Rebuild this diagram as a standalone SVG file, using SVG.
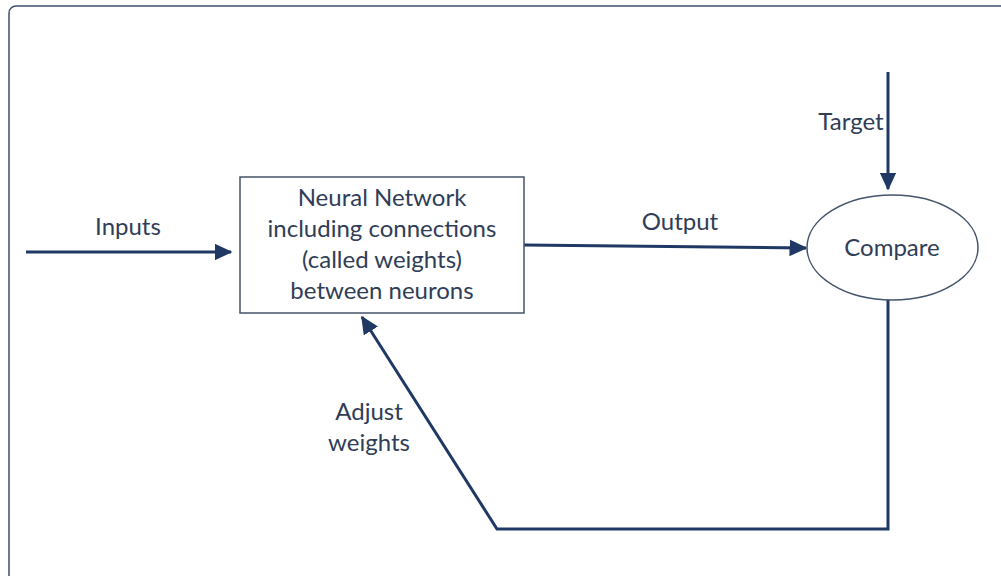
<svg xmlns="http://www.w3.org/2000/svg" width="1001" height="576" viewBox="0 0 1001 576">
  <style>
    .lbl { font-family: Lato, "Liberation Sans", sans-serif; font-size: 24px; fill: #2f3d57; text-anchor: middle; }
    .edge { fill: none; stroke: #203864; stroke-width: 3; }
    .shape { fill: #ffffff; stroke: #44546a; stroke-width: 1.5; }
  </style>
  <defs>
    <marker id="arrow" markerWidth="6" markerHeight="5.6" refX="5.5" refY="2.8" orient="auto" markerUnits="strokeWidth">
      <path d="M0,0 L6,2.8 L0,5.6 Z" fill="#203864"/>
    </marker>
  </defs>

  <!-- outer panel -->
  <rect x="9" y="6" width="1010" height="590" rx="7" fill="#ffffff" stroke="#3d4f6b" stroke-width="1.5"/>

  <!-- connectors -->
  <g id="connectors">
    <line class="edge" x1="26" y1="252" x2="231" y2="252" marker-end="url(#arrow)"/>
    <line class="edge" x1="524" y1="245" x2="806" y2="248" marker-end="url(#arrow)"/>
    <line class="edge" x1="888" y1="72" x2="888" y2="189" marker-end="url(#arrow)"/>
    <polyline class="edge" points="888,300 888,529 497,529 362,317" marker-end="url(#arrow)"/>
    <text class="lbl" x="128" y="235">Inputs</text>
    <text class="lbl" x="680" y="230">Output</text>
    <text class="lbl" x="851" y="130">Target</text>
    <text class="lbl" x="369" y="420">Adjust</text>
    <text class="lbl" x="369" y="451">weights</text>
  </g>

  <!-- neural network box -->
  <g id="network">
    <rect class="shape" x="240" y="177" width="284" height="136"/>
    <text class="lbl" x="382" y="206">Neural Network</text>
    <text class="lbl" x="382" y="237">including connections</text>
    <text class="lbl" x="382" y="268">(called weights)</text>
    <text class="lbl" x="382" y="299">between neurons</text>
  </g>

  <!-- compare node -->
  <g id="compare">
    <ellipse class="shape" cx="892.5" cy="247.5" rx="85.5" ry="52.5"/>
    <text class="lbl" x="892" y="256">Compare</text>
  </g>
</svg>
